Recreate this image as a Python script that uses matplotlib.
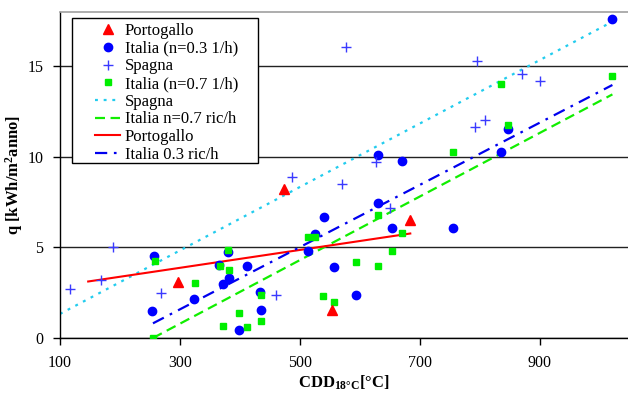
import matplotlib
matplotlib.use("Agg")
import matplotlib.pyplot as plt
from matplotlib.patches import Rectangle

plt.rcParams['font.family'] = ['Liberation Serif', 'DejaVu Serif']
plt.rcParams['mathtext.fontset'] = 'custom'
plt.rcParams['mathtext.rm'] = 'Liberation Serif'
plt.rcParams['mathtext.bf'] = 'Liberation Serif:bold'
plt.rcParams['mathtext.it'] = 'Liberation Serif:italic'

# Portogallo
pt_x = [297, 474, 553, 684]
pt_y = [3.1, 8.2, 1.55, 6.5]

# Italia n=0.3 1/h
it3_x = [254, 257, 324, 365, 372, 380, 381, 399, 412, 434, 435, 514, 525, 540,
         557, 594, 630, 630, 653, 670, 755, 836, 847, 1021]
it3_y = [1.51, 4.55, 2.18, 4.05, 2.97, 4.74, 3.3, 0.44, 3.97, 2.56, 1.57, 4.83, 5.74, 6.7,
         3.91, 2.4, 7.45, 10.13, 6.09, 9.76, 6.1, 10.26, 11.54, 17.6]

# Spagna
sp_x = [117, 169, 189, 269, 460, 487, 570, 577, 627, 651, 792, 795, 809, 871, 900]
sp_y = [2.69, 3.2, 5.05, 2.47, 2.38, 8.9, 8.5, 16.07, 9.72, 7.2, 11.66, 15.3, 12.03, 14.6, 14.2]

# Italia n=0.7 1/h
it7_x = [255, 258, 325, 367, 371, 380, 381, 399, 412, 435, 435, 514, 525, 539,
         557, 594, 630, 630, 653, 670, 756, 836, 847, 1021]
it7_y = [0.02, 4.23, 3.06, 4.0, 0.68, 4.87, 3.78, 1.38, 0.63, 2.36, 0.96, 5.55, 5.55, 2.34,
         2.01, 4.2, 4.0, 6.77, 4.83, 5.77, 10.26, 14.02, 11.78, 14.44]

# trend lines (end points)
sp_fit_x = [100, 1020]
sp_fit_y = [1.33, 17.45]
it7_fit_x = [255, 1021]
it7_fit_y = [0.0, 13.45]
pt_fit_x = [147, 684]
pt_fit_y = [3.12, 5.77]
it3_fit_x = [255, 1021]
it3_fit_y = [0.81, 13.97]

fig = plt.figure(figsize=(6.28, 3.99), dpi=100)
ax = fig.add_axes([60 / 628, 61 / 399, 568 / 628, 326 / 399])

h1, = ax.plot(pt_x, pt_y, ls='none', marker='^', ms=7.5, color='#ff0000', mec='#ff0000', zorder=4)
h2, = ax.plot(it3_x, it3_y, ls='none', marker='o', ms=6, color='#0000ff', zorder=3)
h3, = ax.plot(sp_x, sp_y, ls='none', marker='+', ms=7, mew=1.0, color='#3a3aff', zorder=3)
h4, = ax.plot(it7_x, it7_y, ls='none', marker='s', ms=4.8, color='#00ee00', zorder=3)

l1, = ax.plot(sp_fit_x, sp_fit_y, color='#22ccee', lw=1.6, ls=(0, (1.3, 2.6)), zorder=2)
l2, = ax.plot(it7_fit_x, it7_fit_y, color='#11ee00', lw=1.6, ls=(0, (4.5, 2.5)), zorder=2)
l3, = ax.plot(pt_fit_x, pt_fit_y, color='#ff0000', lw=1.5, zorder=2)
l4, = ax.plot(it3_fit_x, it3_fit_y, color='#0000ee', lw=1.6, ls=(0, (5.5, 3, 1.2, 3)), zorder=2)

ax.set_xlim(100, 1047)
ax.set_ylim(0, 18)
ax.set_xticks([100, 300, 500, 700, 900])
ax.set_yticks([0, 5, 10, 15])
ax.tick_params(labelsize=11.5, direction='out', length=5, width=1, color='k', pad=7)
ax.yaxis.grid(True, color='#222222', lw=1.0)
ax.set_axisbelow(True)
ax.spines['right'].set_visible(False)
ax.spines['top'].set_color('#a0a0a0')
ax.spines['top'].set_linewidth(1.2)
ax.spines['left'].set_linewidth(1.0)
ax.spines['bottom'].set_linewidth(1.0)

ax.set_xlabel(r"CDD$_{\mathbf{18°C}}$[°C]", fontsize=12, fontweight='bold', labelpad=2)
ax.set_ylabel(r"q [kWh/m$^{\mathbf{2}}$anno]", fontsize=12, fontweight='bold')
ax.yaxis.set_label_coords(-0.062, 0.5)

# legend box drawn separately to get the wide padding of the original
ax.add_patch(Rectangle((72 / 628, (399 - 163) / 399), 186 / 628, 145 / 399,
                       transform=fig.transFigure, facecolor='white', edgecolor='black',
                       lw=1.0, zorder=4.5, clip_on=False))

handles = [h1, h2, h3, h4, l1, l2, l3, l4]
labels = ["Portogallo", "Italia (n=0.3 1/h)", "Spagna", "Italia (n=0.7 1/h)",
          "Spagna", "Italia n=0.7 ric/h", "Portogallo", "Italia 0.3 ric/h"]
leg = ax.legend(handles, labels, loc='upper left', bbox_to_anchor=(35 / 568, 1 - 11 / 326),
                borderaxespad=0, borderpad=0, fontsize=12, handlelength=1.5,
                handletextpad=0.3, labelspacing=0.1, frameon=False)
leg.set_zorder(5)

fig.savefig("out.png", dpi=100)
